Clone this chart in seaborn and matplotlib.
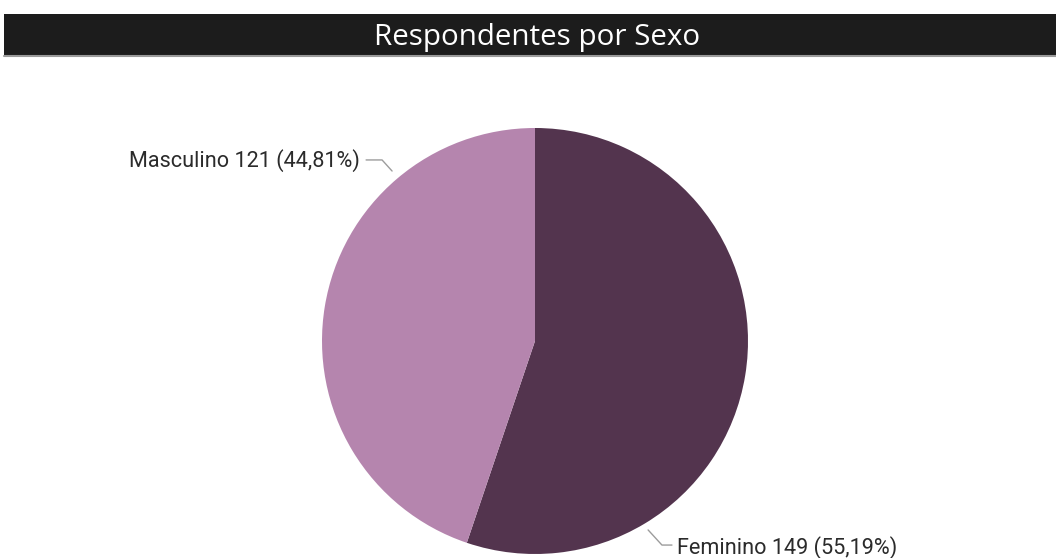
import numpy as np
import matplotlib
matplotlib.use("Agg")
import matplotlib.pyplot as plt
from matplotlib.patches import Rectangle
from matplotlib.lines import Line2D
import seaborn as sns

# Survey respondents by sex
categories = ["Feminino", "Masculino"]
counts = [149, 121]
colors = ["#53344e", "#b585ae"]
title = "Respondentes por Sexo"

sns.set_theme(style="white")
plt.rcParams["font.family"] = ["Roboto", "DejaVu Sans"]

W, H = 1056, 558
fig = plt.figure(figsize=(W / 100, H / 100), dpi=100)
fig.patch.set_facecolor("white")

# Header bar with title
fig.add_artist(Rectangle((4 / W, 1 - 55 / H), 1 - 4 / W, 41 / H,
                         transform=fig.transFigure, facecolor="#1c1c1c",
                         edgecolor="none"))
fig.add_artist(Line2D([4 / W, 1], [1 - 56 / H, 1 - 56 / H],
                      transform=fig.transFigure, color="#9a9a9a", lw=1.5))
fig.text(537 / W, 1 - 37 / H, title, color="white", fontsize=21.3,
         ha="center", va="center", family=["Open Sans", "DejaVu Sans"])

# Pie: centre (535, 341) px, radius 213 px
cx, cy, r = 535, 341, 213
ax = fig.add_axes([(cx - r) / W, 1 - (cy + r) / H, 2 * r / W, 2 * r / H])
ax.pie(counts, colors=sns.color_palette(colors), startangle=90,
       counterclock=False, radius=1.0,
       wedgeprops=dict(linewidth=0, edgecolor="none"))
ax.set_xlim(-1, 1)
ax.set_ylim(-1, 1)
ax.set_aspect("equal")
ax.axis("off")

total = sum(counts)
labels = [f"{c} {n} ({n / total * 100:.2f}%)".replace(".", ",")
          for c, n in zip(categories, counts)]

# Leader lines: (edge point, elbow, end), text anchor, alignment
leaders = {
    "Feminino": ([(0.531, -0.887), (0.596, -0.958), (0.643, -0.958)],
                 (0.668, -0.968), "left"),
    "Masculino": ([(-0.671, 0.798), (-0.718, 0.850), (-0.793, 0.850)],
                  (-0.822, 0.846), "right"),
}
for cat, lab in zip(categories, labels):
    pts, tpos, ha = leaders[cat]
    xs, ys = zip(*pts)
    ax.plot(xs, ys, color="#9c9c9c", lw=1, clip_on=False)
    ax.text(tpos[0], tpos[1], lab, ha=ha, va="center", fontsize=15.6,
            color="#2b2b2b", clip_on=False)

fig.savefig("out.png", dpi=100, facecolor="white")
